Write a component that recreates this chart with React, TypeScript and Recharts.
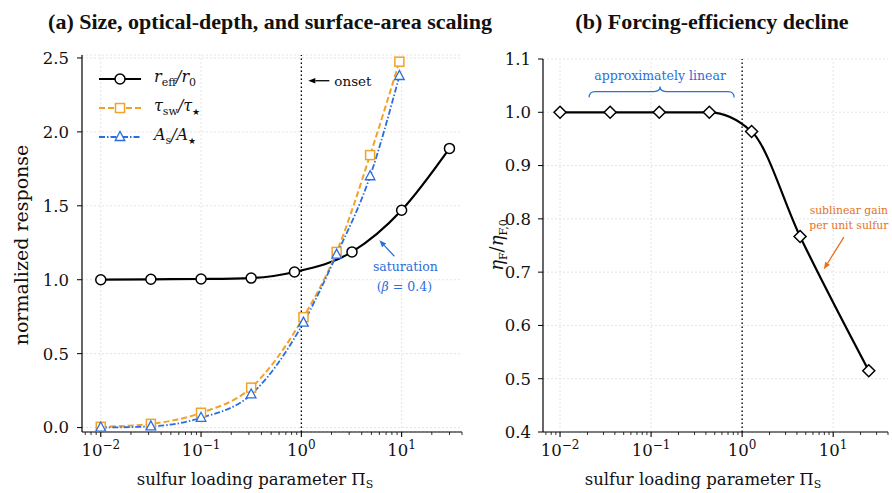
import React from 'react';
import {
  LineChart, Line, XAxis, YAxis, CartesianGrid, ReferenceLine, ReferenceDot, Legend,
} from 'recharts';

const SERIF = '"DejaVu Serif", serif';
const TITLE_FONT = '"Liberation Serif", serif';

const ORANGE = '#f0a22a';
const BLUE = '#2a6de0';
const NOTE_BLUE = '#2b6fd8';
const NOTE_ORANGE = '#e5711d';

// panel (a)
const reffX = [0.01, 0.0316, 0.1, 0.316, 0.855, 3.2, 10, 30];
const reffY = [1.0, 1.003, 1.005, 1.011, 1.052, 1.188, 1.47, 1.888];
const tauX = [0.01, 0.0316, 0.1, 0.316, 1.05, 2.25, 4.85, 9.5];
const tauY = [0.005, 0.025, 0.1, 0.27, 0.747, 1.188, 1.843, 2.475];
const areaX = [0.01, 0.0316, 0.1, 0.316, 1.05, 2.25, 4.85, 9.5];
const areaY = [0.0, 0.008, 0.066, 0.224, 0.71, 1.17, 1.7, 2.378];

// panel (b)
const etaX = [0.01, 0.0355, 0.123, 0.436, 1.27, 4.33, 24.6];
const etaY = [1.0, 1.0, 1.0, 1.0, 0.964, 0.767, 0.515];

const yTicksA = [0, 0.5, 1.0, 1.5, 2.0, 2.5];
const yTicksB = [0.4, 0.5, 0.6, 0.7, 0.8, 0.9, 1.0, 1.1];
const decades = [0.01, 0.1, 1, 10];

const X_DOMAIN: [number, number] = [0.0065, 40];

const logTicks: number[] = [];
[0.001, 0.01, 0.1, 1, 10].forEach((d) => {
  for (let k = 1; k <= 9; k++) {
    const v = +(d * k).toPrecision(3);
    if (v >= X_DOMAIN[0] && v <= X_DOMAIN[1]) logTicks.push(v);
  }
});

const zip = (xs: number[], ys: number[]) => xs.map((x, i) => ({ x, y: ys[i] }));
const reffData = zip(reffX, reffY);
const tauData = zip(tauX, tauY);
const areaData = zip(areaX, areaY);
const etaData = zip(etaX, etaY);

function LogTick(props: any) {
  const { x, y, payload } = props;
  const v = payload.value as number;
  const lg = Math.log10(v);
  const exp = Math.round(lg);
  const major = Math.abs(lg - exp) < 1e-6;
  return (
    <g>
      <line x1={x} x2={x} y1={y} y2={y + (major ? 5 : 3)} stroke="#000" strokeWidth={major ? 1.1 : 0.8} />
      {major && (
        <text x={x} y={y + 24} textAnchor="middle" fontFamily={SERIF} fontSize={16.5} fill="#111">
          10<tspan dy={-7} fontSize={12}>{exp < 0 ? '\u2212' : ''}{Math.abs(exp)}</tspan>
        </text>
      )}
    </g>
  );
}

function Arrow({ x1, y1, x2, y2, color, head = 7 }: any) {
  const a = Math.atan2(y2 - y1, x2 - x1);
  const hx = x2 - head * Math.cos(a);
  const hy = y2 - head * Math.sin(a);
  const px = Math.sin(a) * head * 0.4;
  const py = -Math.cos(a) * head * 0.4;
  return (
    <g>
      <line x1={x1} y1={y1} x2={hx} y2={hy} stroke={color} strokeWidth={1.3} />
      <polygon points={`${x2},${y2} ${hx + px},${hy + py} ${hx - px},${hy - py}`} fill={color} />
    </g>
  );
}

const circleDot = (p: any) => (
  <circle key={p.index} cx={p.cx} cy={p.cy} r={5} fill="#fff" stroke="#000" strokeWidth={1.5} />
);
const squareDot = (p: any) => (
  <rect key={p.index} x={p.cx - 4.5} y={p.cy - 4.5} width={9} height={9} fill="#fff" stroke={ORANGE} strokeWidth={1.5} />
);
const triDot = (p: any) => (
  <polygon key={p.index} points={`${p.cx},${p.cy - 5.5} ${p.cx - 4.8},${p.cy + 3.5} ${p.cx + 4.8},${p.cy + 3.5}`}
    fill="#fff" stroke={BLUE} strokeWidth={1.3} />
);
const diamondDot = (p: any) => (
  <polygon key={p.index} points={`${p.cx},${p.cy - 6} ${p.cx + 6},${p.cy} ${p.cx},${p.cy + 6} ${p.cx - 6},${p.cy}`}
    fill="#fff" stroke="#000" strokeWidth={1.5} />
);

function LegendA() {
  const row = (line: React.ReactNode, label: React.ReactNode) => (
    <div style={{ display: 'flex', alignItems: 'center', height: 29 }}>
      <svg width={44} height={14} style={{ marginRight: 12 }}>{line}</svg>
      <span style={{ fontFamily: SERIF, fontSize: 16, fontStyle: 'italic', color: '#111' }}>{label}</span>
    </div>
  );
  const sub = (s: string, size = 11) => <sub style={{ fontStyle: 'normal', fontSize: size }}>{s}</sub>;
  return (
    <div>
      {row(
        <g><line x1={1} x2={43} y1={7} y2={7} stroke="#000" strokeWidth={2.2} />
          <circle cx={22} cy={7} r={5} fill="#fff" stroke="#000" strokeWidth={1.5} /></g>,
        <>r{sub('eff')}/r{sub('0')}</>,
      )}
      {row(
        <g><line x1={1} x2={43} y1={7} y2={7} stroke={ORANGE} strokeWidth={2} strokeDasharray="6 3" />
          <rect x={17.5} y={2.5} width={9} height={9} fill="#fff" stroke={ORANGE} strokeWidth={1.5} /></g>,
        <>τ{sub('sw')}/τ{sub('★', 9)}</>,
      )}
      {row(
        <g><line x1={1} x2={43} y1={7} y2={7} stroke={BLUE} strokeWidth={1.8} strokeDasharray="6 2 1.5 2" />
          <polygon points="22,1.5 17.2,10.5 26.8,10.5" fill="#fff" stroke={BLUE} strokeWidth={1.3} /></g>,
        <>A{sub('s')}/A{sub('★', 9)}</>,
      )}
    </div>
  );
}

const onsetNote = (p: any) => (
  <g>
    <Arrow x1={p.cx + 28} y1={p.cy} x2={p.cx + 7} y2={p.cy} color="#000" />
    <text x={p.cx + 33} y={p.cy + 5} fontFamily={SERIF} fontSize={13.5} fill="#111">onset</text>
  </g>
);

const saturationNote = (p: any) => (
  <g>
    <Arrow x1={p.cx + 15} y1={p.cy + 16} x2={p.cx} y2={p.cy} color={NOTE_BLUE} />
    <text x={p.cx + 26} y={p.cy + 31} textAnchor="middle" fontFamily={SERIF} fontSize={12.5} fill={NOTE_BLUE}>saturation</text>
    <text x={p.cx + 25} y={p.cy + 51} textAnchor="middle" fontFamily={SERIF} fontSize={12.5} fill={NOTE_BLUE}>
      (<tspan fontStyle="italic">β</tspan> = 0.4)
    </text>
  </g>
);

const braceNote = (p: any) => (
  <g>
    <path
      d={`M ${p.cx - 71} ${p.cy} Q ${p.cx - 71} ${p.cy - 6} ${p.cx - 65} ${p.cy - 6} L ${p.cx - 6} ${p.cy - 6} Q ${p.cx} ${p.cy - 6} ${p.cx} ${p.cy - 11} Q ${p.cx} ${p.cy - 6} ${p.cx + 6} ${p.cy - 6} L ${p.cx + 68} ${p.cy - 6} Q ${p.cx + 74} ${p.cy - 6} ${p.cx + 74} ${p.cy}`}
      fill="none" stroke={NOTE_BLUE} strokeWidth={1.2}
    />
    <text x={p.cx} y={p.cy - 18} textAnchor="middle" fontFamily={SERIF} fontSize={12.5} fill={NOTE_BLUE}>approximately linear</text>
  </g>
);

const sublinearNote = (p: any) => (
  <g>
    <Arrow x1={p.cx + 20} y1={p.cy - 32} x2={p.cx} y2={p.cy} color={NOTE_ORANGE} />
    <text x={p.cx + 25} y={p.cy - 55} textAnchor="middle" fontFamily={SERIF} fontSize={10.8} fill={NOTE_ORANGE}>sublinear gain</text>
    <text x={p.cx + 25} y={p.cy - 40} textAnchor="middle" fontFamily={SERIF} fontSize={10.8} fill={NOTE_ORANGE}>per unit sulfur</text>
  </g>
);

const axisLine = { stroke: '#000', strokeWidth: 1.2 };
const yTick = { fontFamily: SERIF, fontSize: 16.5, fill: '#111' };

export default function App() {
  return (
    <div style={{ position: 'fixed', left: 0, top: 0, width: 892, height: 493, background: '#fff' }}>
      <div style={{ position: 'absolute', left: 0, top: 0 }}>
        <LineChart width={480} height={493} margin={{ top: 55, right: 18, bottom: 31, left: 22 }}>
          <CartesianGrid vertical={false} stroke="#e4e4e4" strokeDasharray="2 2" />
          {decades.map((d) => (
            <ReferenceLine key={d} x={d} stroke="#e4e4e4" strokeDasharray="2 2" />
          ))}
          <XAxis type="number" dataKey="x" scale="log" domain={X_DOMAIN} allowDataOverflow
            ticks={logTicks} interval={0} tick={<LogTick />} tickLine={false} tickSize={0} tickMargin={0}
            axisLine={axisLine} height={30} />
          <YAxis type="number" dataKey="y" domain={[-0.03, 2.52]} allowDataOverflow ticks={yTicksA}
            tickFormatter={(v: number) => v.toFixed(1)} tick={yTick} tickSize={5} tickMargin={8}
            tickLine={{ stroke: '#000' }} axisLine={axisLine} width={60} />
          <ReferenceLine x={1} stroke="#000" strokeWidth={1.3} strokeDasharray="1.5 2.5" />
          <Line data={reffData} dataKey="y" type="monotone" stroke="#000" strokeWidth={2.2}
            dot={circleDot} isAnimationActive={false} legendType="none" />
          <Line data={tauData} dataKey="y" type="monotone" stroke={ORANGE} strokeWidth={2}
            strokeDasharray="6 3" dot={squareDot} isAnimationActive={false} legendType="none" />
          <Line data={areaData} dataKey="y" type="monotone" stroke={BLUE} strokeWidth={1.8}
            strokeDasharray="6 2 1.5 2" dot={triDot} isAnimationActive={false} legendType="none" />
          <ReferenceDot x={1} y={2.346} shape={onsetNote} />
          <ReferenceDot x={6.0} y={1.267} shape={saturationNote} />
          <Legend layout="vertical" align="center" verticalAlign="middle" content={<LegendA />}
            wrapperStyle={{ left: 98, top: 64, width: 160, height: 90 }} />
        </LineChart>
      </div>

      <div style={{ position: 'absolute', left: 480, top: 0 }}>
        <LineChart width={412} height={493} margin={{ top: 59, right: 4, bottom: 31, left: 13 }}>
          <CartesianGrid vertical={false} stroke="#e4e4e4" strokeDasharray="2 2" />
          {decades.map((d) => (
            <ReferenceLine key={d} x={d} stroke="#e4e4e4" strokeDasharray="2 2" />
          ))}
          <XAxis type="number" dataKey="x" scale="log" domain={X_DOMAIN} allowDataOverflow
            ticks={logTicks} interval={0} tick={<LogTick />} tickLine={false} tickSize={0} tickMargin={0}
            axisLine={axisLine} height={30} />
          <YAxis type="number" dataKey="y" domain={[0.4, 1.1]} allowDataOverflow ticks={yTicksB}
            tickFormatter={(v: number) => v.toFixed(1)} tick={yTick} tickSize={5} tickMargin={7}
            tickLine={{ stroke: '#000' }} axisLine={axisLine} width={50} />
          <ReferenceLine x={1} stroke="#000" strokeWidth={1.3} strokeDasharray="1.5 2.5" />
          <Line data={etaData} dataKey="y" type="monotone" stroke="#000" strokeWidth={2.2}
            dot={diamondDot} isAnimationActive={false} legendType="none" />
          <ReferenceDot x={0.1256} y={1.0277} shape={braceNote} />
          <ReferenceDot x={7.9} y={0.7056} shape={sublinearNote} />
        </LineChart>
      </div>

      <svg width={892} height={493} style={{ position: 'absolute', left: 0, top: 0, pointerEvents: 'none' }}>
        <text x={270} y={29} textAnchor="middle" fontFamily={TITLE_FONT} fontWeight="bold" fontSize={22} fill="#111">
          (a) Size, optical-depth, and surface-area scaling
        </text>
        <text x={712} y={29} textAnchor="middle" fontFamily={TITLE_FONT} fontWeight="bold" fontSize={22} fill="#111">
          (b) Forcing-efficiency decline
        </text>
        <text x={255} y={485} textAnchor="middle" fontFamily={SERIF} fontSize={16.5} fill="#111">
          sulfur loading parameter Π<tspan dy={3} fontSize={11}>S</tspan>
        </text>
        <text x={703} y={485} textAnchor="middle" fontFamily={SERIF} fontSize={16.5} fill="#111">
          sulfur loading parameter Π<tspan dy={3} fontSize={11}>S</tspan>
        </text>
        <text transform="translate(28,245) rotate(-90)" textAnchor="middle" fontFamily={SERIF} fontSize={19} fill="#111">
          normalized response
        </text>
        <text transform="translate(503,245) rotate(-90)" textAnchor="middle" fontFamily={SERIF} fontSize={18} fill="#111">
          <tspan fontStyle="italic">η</tspan><tspan dy={4} fontSize={11}>F</tspan>
          <tspan dy={-4}>/</tspan><tspan fontStyle="italic">η</tspan><tspan dy={4} fontSize={11}>F,0</tspan>
        </text>
      </svg>
    </div>
  );
}
